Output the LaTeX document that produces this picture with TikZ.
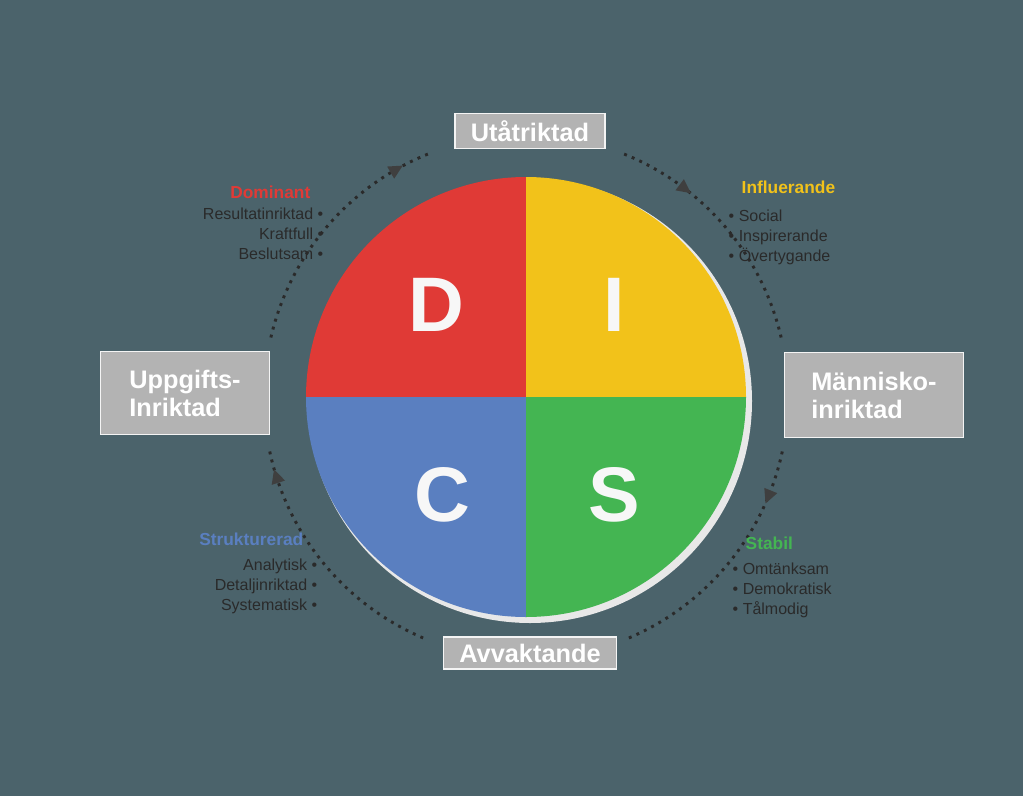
\documentclass[tikz,border=0pt]{standalone}
\usepackage{fontspec}
\setmainfont{Liberation Sans}
\usetikzlibrary{calc}
\definecolor{bg}{HTML}{4B636B}
\definecolor{dred}{HTML}{E03A36}
\definecolor{dyel}{HTML}{F2C21A}
\definecolor{dblu}{HTML}{5A7FC0}
\definecolor{dgrn}{HTML}{44B552}
\definecolor{lbl}{HTML}{B3B3B3}
\definecolor{dk}{HTML}{2A2A2A}
\begin{document}
\begin{tikzpicture}[x=0.75pt,y=0.75pt,
  ring/.style={dk,line width=2.2pt,dash pattern=on 2.2pt off 4pt},
  banner/.style={fill=lbl,draw=white!85!lbl,line width=1pt,text=white,font=\bfseries\fontsize{19}{21}\selectfont,inner xsep=12pt,inner ysep=5pt,align=left},
  head/.style={font=\bfseries\fontsize{13}{15}\selectfont},
  item/.style={font=\fontsize{12}{15}\selectfont,text=dk,align=left}]
\fill[bg] (0,0) rectangle (1023,-796);
\useasboundingbox (0,0) rectangle (1023,-796);
\coordinate (C) at (526,-397);
% ring
\draw[ring] ([shift={(112:262)}]C) arc (112:168:262);
\draw[ring] ([shift={(192:262)}]C) arc (192:248:262);
\draw[ring] ([shift={(68:262)}]C) arc (68:12:262);
\draw[ring] ([shift={(-12:262)}]C) arc (-12:-68:262);
\foreach \a in {120,53,-22,198}
  \fill[dk!90] ($(C)+(\a:262)+(\a-90:9)$) -- ($(C)+(\a:262)+(\a+90:5)+(\a:7)$) -- ($(C)+(\a:262)+(\a+90:5)+(\a:-7)$) -- cycle;
% circle
\fill[white!82!gray] ([shift={(4,-4)}]C) circle (222);
\begin{scope}
\clip (C) circle (220);
\fill[dred] (C) rectangle ++(-230,230);
\fill[dyel] (C) rectangle ++(230,230);
\fill[dblu] (C) rectangle ++(-230,-230);
\fill[dgrn] (C) rectangle ++(230,-230);
\end{scope}
\foreach \n/\p/\t in {d/{(436,-305)}/D, i/{(614,-305)}/I, c/{(442,-495)}/C, s/{(614,-495)}/S}
  \node[text=white!94!gray,font=\bfseries\fontsize{58}{60}\selectfont] (\n) at \p {\t};
% banners
\node[banner] (ut) at (530,-131) {Utåtriktad};
\node[banner] (av) at (530,-653) {Avvaktande};
\node[banner,minimum width=127,minimum height=62] (up) at (185,-393) {Uppgifts-\\Inriktad};
\node[banner,minimum width=134,minimum height=64] (ma) at (874,-395) {Människo-\\inriktad};
% text blocks
\node[head,text=dred,anchor=east] (dh) at (315,-192) {Dominant};
\node[item,anchor=north east,align=right] (dl) at (328,-203) {Resultatinriktad •\\Kraftfull •\\Beslutsam •};
\node[head,text=dyel,anchor=west] (ih) at (737,-187) {Influerande};
\node[item,anchor=north west] (il) at (724,-205) {• Social\\• Inspirerande\\• Övertygande};
\node[head,text=dblu,anchor=east] (ch) at (308,-539) {Strukturerad};
\node[item,anchor=north east,align=right] (cl) at (322,-554) {Analytisk •\\Detaljinriktad •\\Systematisk •};
\node[head,text=dgrn,anchor=west] (sh) at (741,-543) {Stabil};
\node[item,anchor=north west] (sl) at (728,-558) {• Omtänksam\\• Demokratisk\\• Tålmodig};
\end{tikzpicture}
\end{document}
